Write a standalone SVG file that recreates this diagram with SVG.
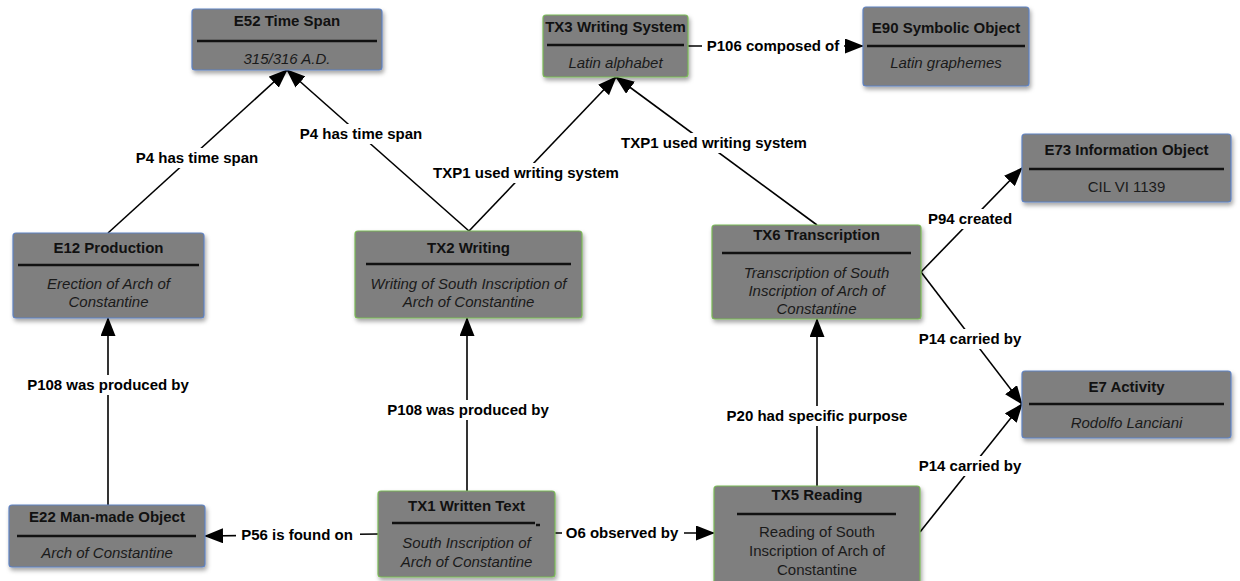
<svg xmlns="http://www.w3.org/2000/svg" width="1240" height="581" viewBox="0 0 1240 581">
<style>
.box{fill:#7f7f7f;stroke-width:1.2}
.e{stroke:#5f82c2}
.tx{stroke:#79b856}
.sep{stroke:#111;stroke-width:2.5}
.t{font-family:"Liberation Sans",Arial,sans-serif;font-size:15px;font-weight:bold;fill:#111;text-anchor:middle}
.s{font-family:"Liberation Sans",Arial,sans-serif;font-size:15px;font-style:italic;fill:#1a1a1a;text-anchor:middle}
.r{font-family:"Liberation Sans",Arial,sans-serif;font-size:15px;fill:#1a1a1a;text-anchor:middle}
.c{stroke:#000;stroke-width:1.6;fill:none;marker-end:url(#ah)}
.lb{fill:#fff}
.l{font-family:"Liberation Sans",Arial,sans-serif;font-size:15px;font-weight:bold;fill:#000;text-anchor:middle}
</style>
<defs>
<marker id="ah" markerWidth="19" markerHeight="15" refX="18" refY="7.5" orient="auto" markerUnits="userSpaceOnUse">
<path d="M0,0 L19,7.5 L0,15 z" fill="#000"/>
</marker>
<filter id="sh" x="-10%" y="-10%" width="125%" height="135%">
<feDropShadow dx="1.5" dy="3" stdDeviation="2" flood-color="#000" flood-opacity="0.35"/>
</filter>
</defs>
<rect width="1240" height="581" fill="#fff"/>

<g id="connectors">
<line class="c" x1="108" y1="233" x2="287" y2="70"/>
<line class="c" x1="469" y1="231" x2="287" y2="70"/>
<line class="c" x1="469" y1="231" x2="616" y2="77"/>
<line class="c" x1="817" y1="225" x2="616" y2="77"/>
<line class="c" x1="688" y1="46" x2="863" y2="46"/>
<line class="c" x1="921" y1="272" x2="1022" y2="168"/>
<line class="c" x1="921" y1="272" x2="1022" y2="404"/>
<line class="c" x1="920" y1="532" x2="1022" y2="404"/>
<line class="c" x1="817" y1="486" x2="817" y2="319"/>
<line class="c" x1="467" y1="491" x2="467" y2="318"/>
<line class="c" x1="108" y1="505" x2="108" y2="318"/>
<line class="c" x1="378" y1="534" x2="205" y2="536"/>
<line class="c" x1="555" y1="533" x2="714" y2="533"/>

<rect class="lb" x="132" y="148" width="130" height="20"/>
<text class="l" x="197" y="163">P4 has time span</text>
<rect class="lb" x="296" y="124" width="130" height="20"/>
<text class="l" x="361" y="139">P4 has time span</text>
<rect class="lb" x="429" y="163" width="194" height="20"/>
<text class="l" x="526" y="178">TXP1 used writing system</text>
<rect class="lb" x="617" y="133" width="194" height="20"/>
<text class="l" x="714" y="148">TXP1 used writing system</text>
<rect class="lb" x="702" y="36" width="142" height="20"/>
<text class="l" x="773" y="51">P106 composed of</text>
<rect class="lb" x="924" y="209" width="92" height="20"/>
<text class="l" x="970" y="224">P94 created</text>
<rect class="lb" x="914" y="329" width="112" height="20"/>
<text class="l" x="970" y="344">P14 carried by</text>
<rect class="lb" x="914" y="456" width="112" height="20"/>
<text class="l" x="970" y="471">P14 carried by</text>
<rect class="lb" x="722" y="406" width="190" height="20"/>
<text class="l" x="817" y="421">P20 had specific purpose</text>
<rect class="lb" x="383" y="400" width="170" height="20"/>
<text class="l" x="468" y="415">P108 was produced by</text>
<rect class="lb" x="23" y="375" width="170" height="20"/>
<text class="l" x="108" y="390">P108 was produced by</text>
<rect class="lb" x="236" y="525" width="124" height="20"/>
<text class="l" x="297" y="540">P56 is found on</text>
<rect class="lb" x="562" y="523" width="122" height="20"/>
<text class="l" x="622" y="538">O6 observed by</text>
</g>

<g id="E52">
<rect class="box e" x="192" y="9" width="190" height="61" rx="3" filter="url(#sh)"/>
<text class="t" x="287" y="26">E52 Time Span</text>
<line class="sep" x1="197" y1="41" x2="377" y2="41"/>
<text class="s" x="287" y="64">315/316 A.D.</text>
</g>

<g id="TX3">
<rect class="box tx" x="543" y="15" width="145" height="62" rx="3" filter="url(#sh)"/>
<text class="t" x="615.5" y="32">TX3 Writing System</text>
<line class="sep" x1="547" y1="45" x2="684" y2="45"/>
<text class="s" x="615.5" y="68">Latin alphabet</text>
</g>

<g id="E90">
<rect class="box e" x="863" y="7" width="166" height="79" rx="3" filter="url(#sh)"/>
<text class="t" x="946" y="33">E90 Symbolic Object</text>
<line class="sep" x1="867" y1="46" x2="1025" y2="46"/>
<text class="s" x="946" y="68">Latin graphemes</text>
</g>

<g id="E73">
<rect class="box e" x="1022" y="134" width="209" height="68" rx="3" filter="url(#sh)"/>
<text class="t" x="1126.5" y="155">E73 Information Object</text>
<line class="sep" x1="1029" y1="169" x2="1224" y2="169"/>
<text class="r" x="1126.5" y="192">CIL VI 1139</text>
</g>

<g id="E12">
<rect class="box e" x="13" y="233" width="191" height="85" rx="3" filter="url(#sh)"/>
<text class="t" x="108.5" y="253">E12 Production</text>
<line class="sep" x1="18" y1="265" x2="199" y2="265"/>
<text class="s" x="108.5" y="289">Erection of Arch of</text>
<text class="s" x="108.5" y="307">Constantine</text>
</g>

<g id="TX2">
<rect class="box tx" x="355" y="231" width="227" height="87" rx="3" filter="url(#sh)"/>
<text class="t" x="468.5" y="253">TX2 Writing</text>
<line class="sep" x1="366" y1="264" x2="571" y2="264"/>
<text class="s" x="468.5" y="289">Writing of South Inscription of</text>
<text class="s" x="468.5" y="307">Arch of Constantine</text>
</g>

<g id="TX6">
<rect class="box tx" x="712" y="225" width="209" height="94" rx="3" filter="url(#sh)"/>
<text class="t" x="816.5" y="240">TX6 Transcription</text>
<line class="sep" x1="722" y1="253" x2="911" y2="253"/>
<text class="s" x="816.5" y="278">Transcription of South</text>
<text class="s" x="816.5" y="296">Inscription of Arch of</text>
<text class="s" x="816.5" y="314">Constantine</text>
</g>

<g id="E7">
<rect class="box e" x="1022" y="371" width="209" height="67" rx="3" filter="url(#sh)"/>
<text class="t" x="1126.5" y="392">E7 Activity</text>
<line class="sep" x1="1029" y1="404" x2="1224" y2="404"/>
<text class="s" x="1126.5" y="428">Rodolfo Lanciani</text>
</g>

<g id="E22">
<rect class="box e" x="9" y="505" width="196" height="62" rx="3" filter="url(#sh)"/>
<text class="t" x="107" y="522">E22 Man-made Object</text>
<line class="sep" x1="17" y1="536" x2="196" y2="536"/>
<text class="s" x="107" y="558">Arch of Constantine</text>
</g>

<g id="TX1">
<rect class="box tx" x="378" y="491" width="177" height="86" rx="3" filter="url(#sh)"/>
<text class="t" x="466.5" y="511">TX1 Written Text</text>
<line class="sep" x1="392" y1="523" x2="535" y2="523"/>
<line class="sep" x1="536" y1="525" x2="540" y2="525"/>
<text class="s" x="466.5" y="548">South Inscription of</text>
<text class="s" x="466.5" y="567">Arch of Constantine</text>
</g>

<g id="TX5">
<rect class="box tx" x="714" y="486" width="206" height="100" rx="3" filter="url(#sh)"/>
<text class="t" x="817" y="500">TX5 Reading</text>
<line class="sep" x1="737" y1="514" x2="896" y2="514"/>
<text class="r" x="817" y="537">Reading of South</text>
<text class="r" x="817" y="556">Inscription of Arch of</text>
<text class="r" x="817" y="575">Constantine</text>
</g>
</svg>
